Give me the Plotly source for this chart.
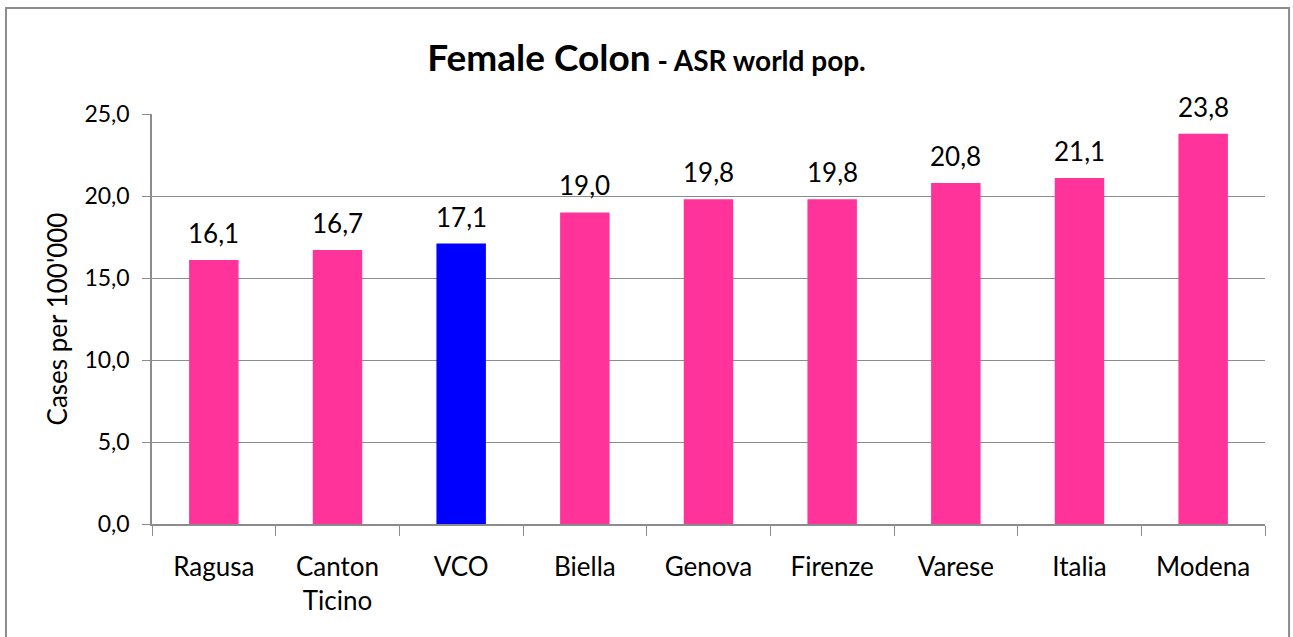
import plotly.graph_objects as go

# data
regions = ["Ragusa", "Canton<br>Ticino", "VCO", "Biella", "Genova", "Firenze", "Varese", "Italia", "Modena"]
asr_values = [16.1, 16.7, 17.1, 19.0, 19.8, 19.8, 20.8, 21.1, 23.8]
bar_colors = ["#FF3399", "#FF3399", "#0000FF", "#FF3399", "#FF3399", "#FF3399", "#FF3399", "#FF3399", "#FF3399"]
y_ticks = [0, 5, 10, 15, 20, 25]

font_name = "Lato, Open Sans, sans-serif"

fig = go.Figure()
fig.add_trace(go.Bar(x=regions, y=asr_values, marker=dict(color=bar_colors, line=dict(width=0)), width=0.4))

# value labels above the bars
for r, v in zip(regions, asr_values):
    fig.add_annotation(x=r, y=v, text=f"{v:.1f}".replace(".", ","), showarrow=False,
                       yanchor="bottom", yshift=9, font=dict(size=26, color="black", family=font_name))

# outer frame of the chart
fig.add_shape(type="rect", xref="paper", yref="paper", x0=-0.1312, x1=1.0216, y0=-0.29, y1=1.2585,
              line=dict(color="#8c8c8c", width=2), fillcolor="rgba(0,0,0,0)", layer="below")

fig.update_layout(
    width=1293, height=637,
    margin=dict(l=152, r=28, t=114, b=113),
    paper_bgcolor="white", plot_bgcolor="white",
    separators=",.",
    showlegend=False,
    font=dict(family=font_name, color="black"),
    title=dict(text="<b>Female Colon</b><b><span style='font-size:28px'> - ASR world pop.</span></b>",
               x=0.5, xref="container", y=1 - 58 / 637, yref="container", yanchor="middle",
               font=dict(size=37, color="black", family=font_name)),
)
fig.update_xaxes(showline=True, linecolor="#8c8c8c", linewidth=1.5, ticks="outside", tickson="boundaries",
                 ticklen=10, tickcolor="#8c8c8c", tickfont=dict(size=26), showgrid=False,
                 ticklabelstandoff=19)
fig.update_yaxes(range=[0, 25], tickvals=y_ticks, tickformat=".1f", showline=True, linecolor="#8c8c8c",
                 linewidth=1.5, ticks="outside", ticklen=8, tickcolor="#8c8c8c", showgrid=True,
                 gridcolor="#8c8c8c", gridwidth=1, tickfont=dict(size=23), zeroline=False,
                 ticklabelstandoff=8,
                 title=dict(text="Cases per 100'000", font=dict(size=26), standoff=9))

fig.write_html("out.html", config={"displayModeBar": False},
               post_script="document.body.style.margin='0';")
